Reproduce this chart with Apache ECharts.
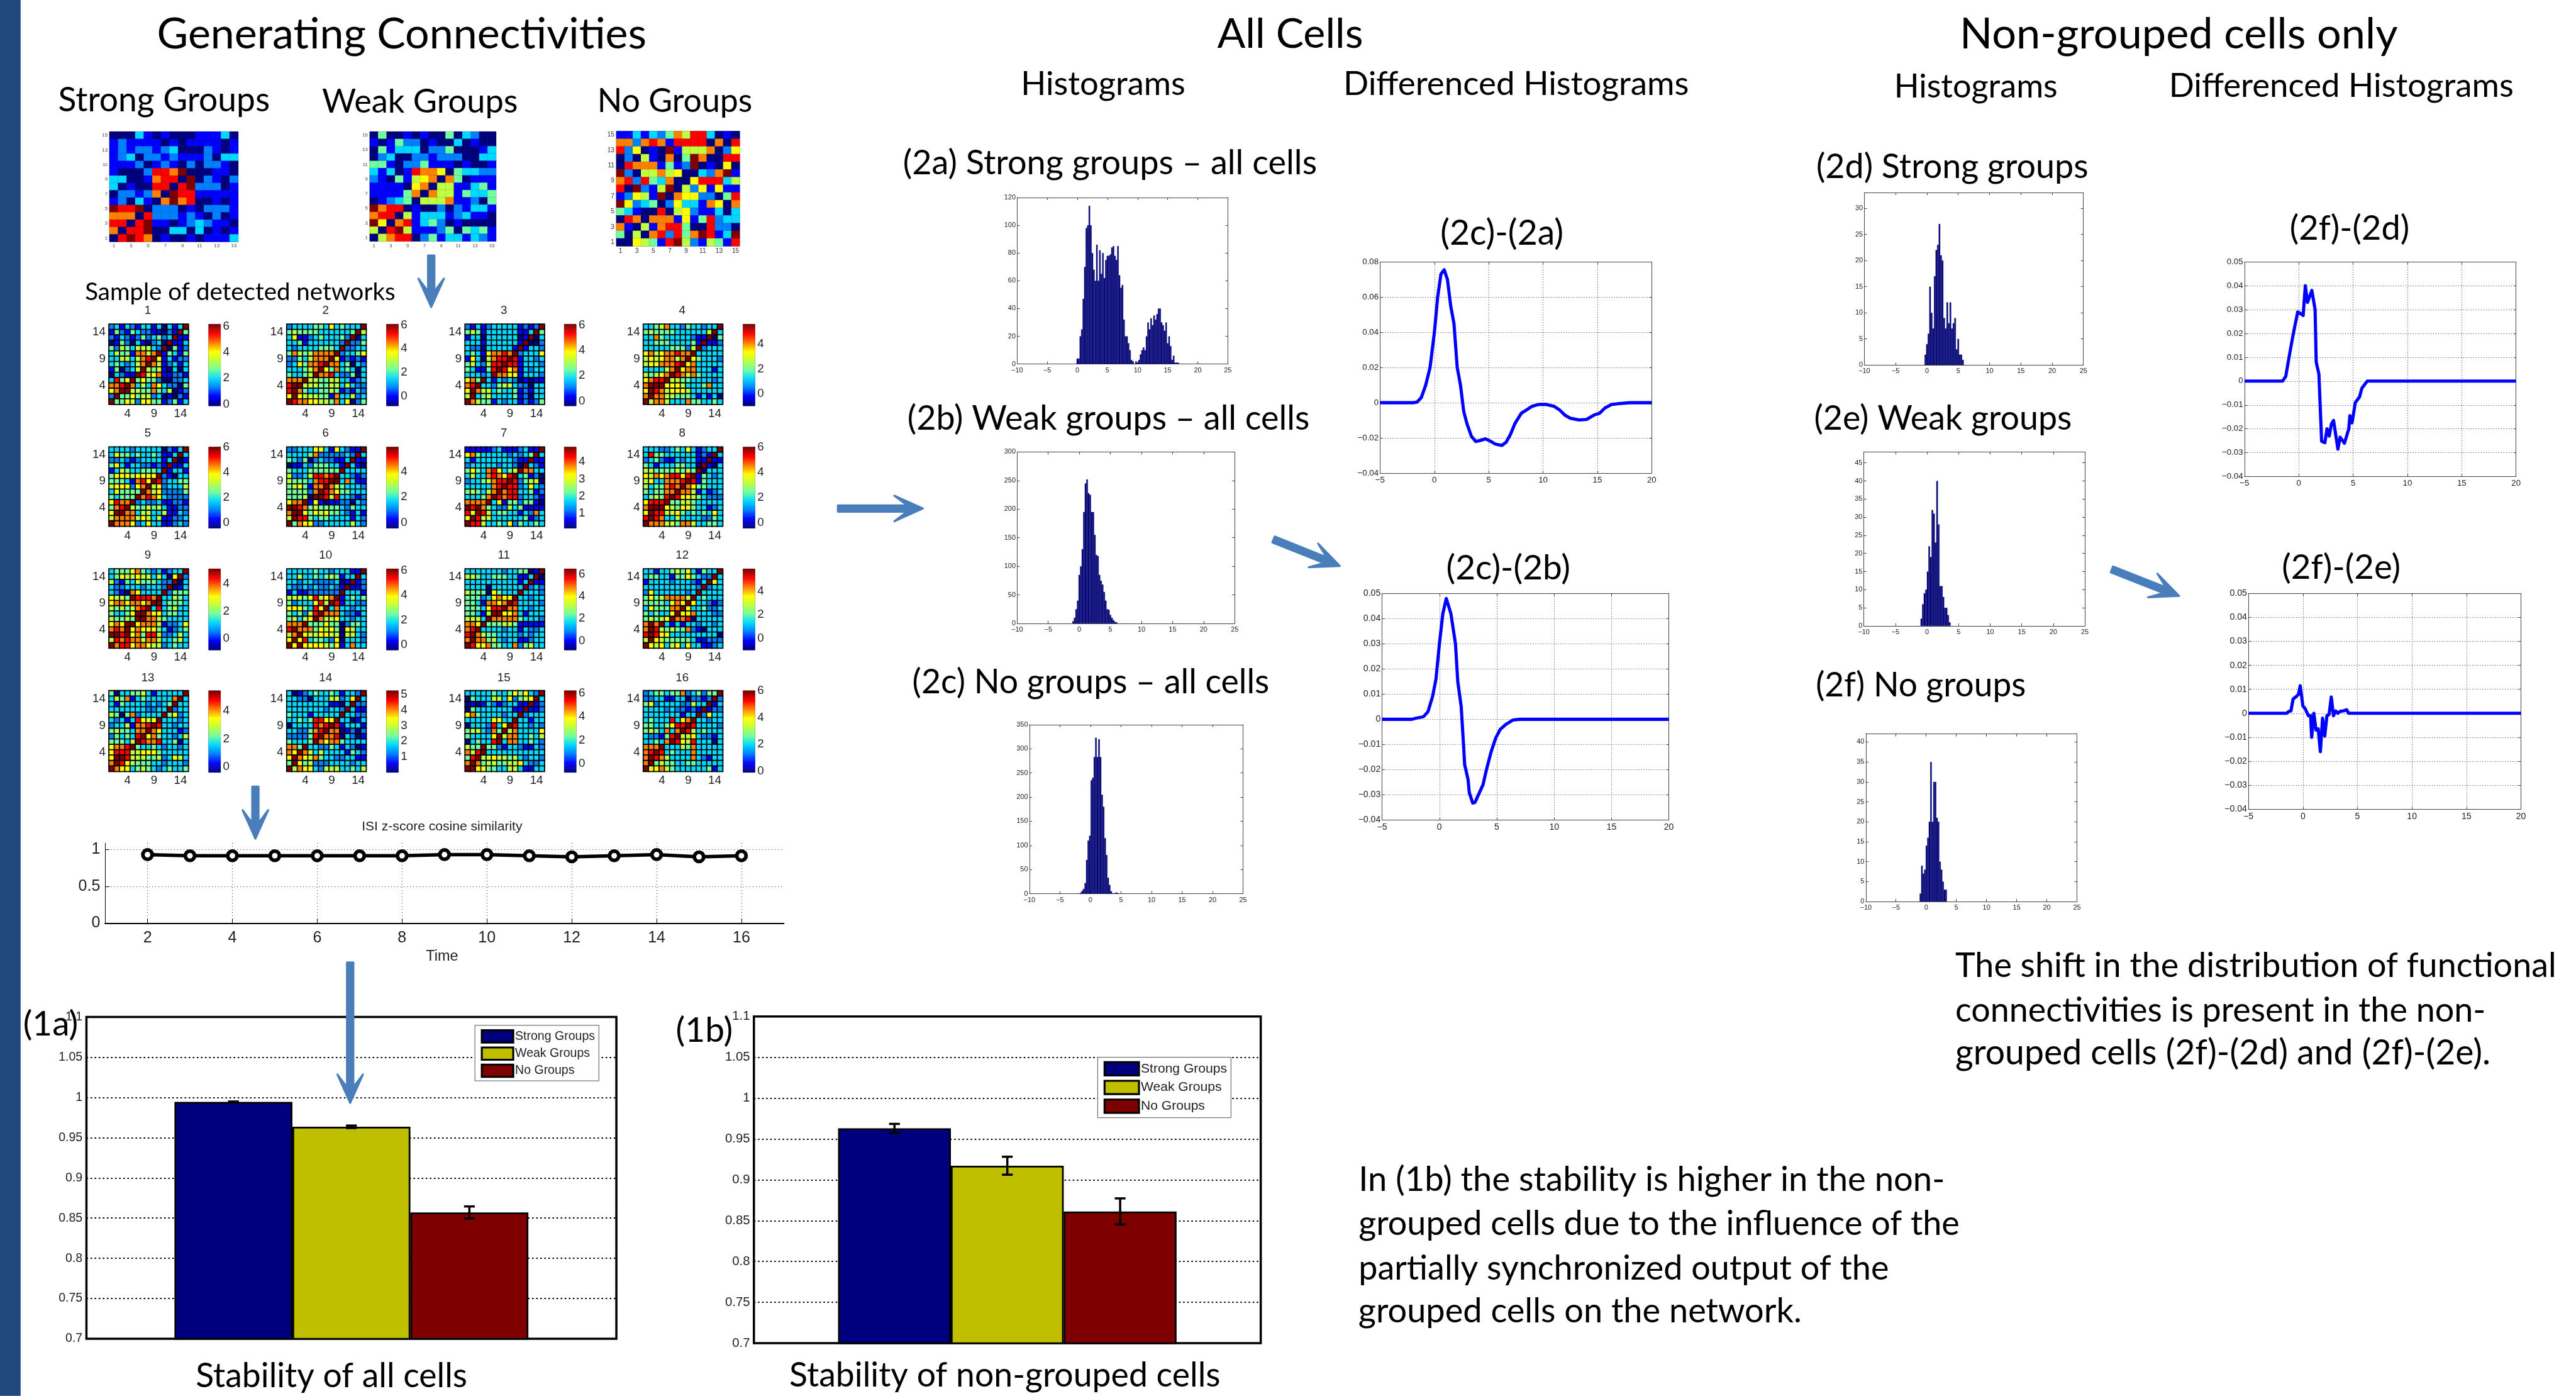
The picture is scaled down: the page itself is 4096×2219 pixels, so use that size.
<!DOCTYPE html>
<html><head><meta charset="utf-8">
<style>html,body{margin:0;padding:0;background:#fff}#c{width:4096px;height:2219px}</style>
<script src="https://cdn.jsdelivr.net/npm/echarts@6/dist/echarts.min.js"></script>
</head><body><div id="c"></div>
<script>
// ---------- values (digit scale: 0 dark blue ... 9 dark red; rows top to bottom)
const strongGroups=[
[0,0,0,3,1,0,1,0,0,0,1,1,1,3,0],[1,2,1,1,1,1,0,1,0,1,1,1,1,0,1],[1,2,1,2,2,1,2,3,0,0,0,2,1,0,1],
[1,2,3,0,2,2,1,2,1,1,1,2,0,3,3],[1,1,1,2,0,1,2,1,0,2,0,2,2,1,0],[1,0,0,0,2,8,8,7,9,0,0,0,1,1,0],
[3,3,0,0,1,7,8,8,0,9,0,2,1,0,2],[3,0,1,0,0,8,8,0,8,9,2,2,2,0,1],[0,2,2,1,2,7,0,9,8,8,1,1,1,1,1],
[1,2,0,3,1,0,7,9,7,8,0,0,1,0,1],[9,8,8,9,0,2,2,2,0,1,0,2,2,2,1],[7,7,7,0,8,2,2,2,1,2,1,0,2,0,1],
[8,8,0,8,9,1,1,0,1,2,3,2,1,1,0],[7,0,8,8,9,0,0,3,3,0,3,0,1,0,1],[0,8,9,8,7,0,1,0,0,1,0,1,1,1,3]];
const weakGroups=[
[0,4,0,0,1,0,1,0,0,4,0,3,2,0,0],[1,0,1,4,2,2,0,1,0,0,3,0,1,0,0],[0,4,1,3,3,3,0,2,2,4,0,0,0,1,3],
[0,2,3,0,0,2,2,1,2,2,2,0,0,3,3],[4,4,1,0,2,2,4,1,1,1,0,1,0,0,1],[3,1,3,0,1,8,7,7,6,0,4,3,3,2,2],
[2,1,0,4,1,5,6,7,0,7,4,0,1,1,1],[1,1,1,1,0,6,7,0,5,5,1,1,3,4,1],[1,1,1,1,4,7,0,7,5,5,1,4,3,3,4],
[0,1,2,3,4,0,5,5,5,7,1,1,2,0,4],[9,7,8,8,0,1,0,0,2,0,2,1,3,3,1],[7,8,8,0,5,1,3,3,3,1,2,3,1,1,0],
[9,6,0,7,8,1,3,4,2,0,1,0,0,0,0],[5,0,8,9,5,1,1,1,2,4,0,4,3,4,1],[0,5,7,8,8,0,2,4,1,3,3,1,3,2,1]];
const noGroups=[
[1,1,3,1,3,2,4,7,5,8,8,3,0,1,0],[7,7,2,7,8,7,1,8,8,8,8,0,7,0,8],[8,2,6,0,1,0,9,1,5,5,5,7,0,2,6],
[0,2,0,5,1,0,7,0,4,9,7,0,0,8,8],[0,8,7,7,7,1,4,1,2,9,0,1,0,6,0],[9,2,0,5,5,7,5,6,0,0,3,2,7,9,1],
[7,8,2,8,4,3,7,0,0,6,8,8,8,3,5],[8,0,9,2,1,5,9,0,5,2,6,1,6,1,1],[1,2,6,5,1,9,0,7,6,6,2,2,0,4,8],
[9,6,2,3,4,0,2,6,3,3,1,7,6,0,7],[4,3,1,0,0,8,0,5,6,2,1,1,3,0,3],[0,8,7,0,7,7,7,1,6,1,4,8,2,3,3],
[7,1,0,5,1,7,8,8,4,0,0,8,2,2,0],[4,0,5,0,7,8,2,8,4,7,9,8,1,3,9],[0,0,6,5,4,1,8,9,5,2,1,5,4,1,8]];
const net1=[[2,3,1,3,2,1,3,3,1,3,0,3,1,3,9],[1,4,2,1,4,3,2,2,1,1,0,2,1,9,4],[2,1,3,2,1,2,4,2,3,4,2,3,9,1,1],[0,1,4,2,0,3,1,0,2,3,0,9,1,1,3],[4,2,5,4,3,5,5,5,3,2,9,0,4,1,2],[3,5,4,4,1,7,7,5,7,9,1,4,3,1,4],[3,3,5,5,3,5,7,8,9,6,1,3,1,2,2],[3,4,3,2,3,5,7,9,7,5,1,2,3,1,3],[1,4,0,2,3,5,9,5,4,5,1,0,3,0,3],[0,3,2,1,1,9,8,5,6,7,1,1,2,2,1],[3,8,4,6,9,4,6,4,4,2,0,0,2,2,3],[7,7,8,9,7,3,5,3,7,6,3,2,2,0,4],[6,7,9,9,5,5,4,4,7,4,3,5,0,1,2],[2,9,4,4,6,4,5,5,2,3,0,1,0,2,1],[9,4,4,6,5,2,6,6,4,4,1,2,4,1,3]];
const net2=[[2,3,3,3,3,4,4,3,6,3,4,3,3,3,9],[4,5,4,4,4,4,3,3,3,3,3,3,4,9,5],[3,6,1,1,2,3,4,3,3,3,4,2,9,0,3],[3,3,4,1,3,3,3,3,3,3,2,9,2,2,4],[3,2,3,3,3,3,4,4,4,3,9,2,2,3,3],[4,7,5,4,5,7,7,7,7,9,2,3,3,4,6],[2,2,4,3,5,7,7,7,9,6,1,2,1,2,1],[2,3,6,4,7,7,8,9,7,7,3,4,0,3,2],[3,3,3,4,5,7,9,6,4,7,3,4,3,0,3],[4,3,3,4,5,9,7,7,8,3,2,2,4,0,3],[7,7,7,9,5,5,4,4,5,5,3,3,1,2,3],[8,9,9,5,5,5,4,4,5,5,3,5,3,2,2],[8,9,7,4,3,3,4,4,5,4,1,2,1,3,2],[6,9,6,5,5,5,4,4,1,7,3,3,5,2,3],[9,8,7,7,6,6,5,5,4,7,3,6,0,2,4]];
const net3=[[2,1,3,1,2,3,3,3,3,3,1,2,1,2,9],[4,5,4,1,3,3,3,3,3,3,1,1,3,9,4],[1,3,3,0,3,3,3,3,3,3,0,1,9,0,3],[3,3,3,1,3,3,3,3,3,3,1,9,0,0,2],[3,2,2,0,3,3,3,3,3,1,9,1,3,3,2],[3,4,3,1,6,7,7,8,7,9,2,3,3,3,6],[1,6,3,0,5,7,8,8,9,8,1,3,3,2,3],[4,5,3,2,5,8,8,9,8,8,1,3,3,3,2],[4,3,1,1,4,8,9,8,6,7,1,3,2,3,3],[3,3,3,2,3,9,7,7,6,6,1,3,3,3,2],[6,7,4,9,3,1,3,2,3,2,0,1,0,1,1],[7,8,9,3,3,2,4,5,5,3,2,2,0,3,3],[6,9,7,5,5,3,4,3,3,4,1,2,1,3,3],[5,9,3,4,5,3,3,3,3,4,1,2,0,3,3],[9,7,5,4,4,1,3,2,3,3,1,2,1,2,4]];
const net4=[[3,3,4,5,7,3,3,2,4,3,3,2,3,3,9],[4,5,4,4,4,4,3,3,3,3,3,3,5,9,3],[3,3,7,4,3,3,3,3,3,2,1,1,9,0,4],[3,3,4,4,4,3,3,3,3,4,1,9,1,1,2],[3,3,3,3,3,4,4,4,2,5,9,2,3,3,3],[6,7,5,6,7,7,8,7,7,9,3,3,3,3,3],[5,6,5,6,7,7,5,7,9,6,4,3,3,3,2],[5,6,6,7,7,7,8,9,6,7,3,3,3,3,3],[3,3,3,3,5,7,9,6,7,7,3,3,3,1,3],[5,4,5,6,7,9,8,7,5,7,4,3,3,3,3],[6,7,8,8,9,5,5,4,4,3,3,3,3,2,3],[7,9,9,9,6,6,6,5,3,3,3,4,7,3,3],[6,9,8,7,5,6,6,6,5,3,3,3,3,3,3],[7,9,7,7,5,5,4,4,4,3,1,3,1,3,0],[9,5,7,7,5,3,3,3,7,4,4,3,3,4,3]];
const net5=[[3,3,3,3,2,3,3,3,3,3,0,2,1,3,9],[3,6,4,4,3,4,3,3,4,3,1,1,3,9,3],[2,2,3,2,1,2,3,3,3,3,1,3,9,0,1],[4,6,3,1,3,3,2,2,1,2,1,9,1,1,3],[1,3,5,4,3,3,4,4,4,3,9,1,3,3,1],[4,6,6,6,5,6,6,6,6,9,2,1,0,3,3],[4,4,4,3,1,7,8,6,9,8,2,3,3,4,4],[5,6,6,6,2,6,7,9,5,6,2,3,3,3,5],[3,6,4,4,4,4,9,7,5,6,2,2,2,2,4],[4,3,4,4,4,9,7,8,7,6,3,2,2,2,2],[6,8,7,7,9,2,3,2,2,3,1,1,2,2,1],[4,7,8,9,5,4,4,5,4,5,3,1,1,2,2],[6,9,9,7,7,3,5,5,3,3,5,1,1,3,2],[5,7,7,7,7,5,6,5,3,5,1,1,2,2,3],[9,7,7,7,6,2,3,6,3,3,1,1,2,3,2]];
const net6=[[2,2,3,3,3,6,6,3,1,6,3,2,1,1,9],[3,3,3,3,4,7,2,2,2,2,2,3,2,9,3],[4,3,2,4,0,2,3,2,2,1,1,3,9,1,1],[0,1,1,3,2,4,4,4,3,3,1,9,3,1,0],[4,3,3,3,4,4,4,4,4,4,9,3,3,3,3],[5,2,2,3,5,8,8,7,8,9,3,3,2,1,2],[5,4,4,4,3,7,8,8,9,9,3,7,3,1,1],[4,5,6,4,1,7,7,9,7,5,4,3,3,3,2],[4,4,4,4,2,7,9,8,7,6,4,4,3,3,3],[4,4,4,5,0,9,9,8,5,8,3,3,2,1,2],[6,7,7,9,1,6,1,0,1,1,2,2,0,3,2],[9,9,8,7,4,5,4,4,4,4,3,2,4,3,3],[7,9,9,6,4,6,5,6,4,4,3,2,1,3,1],[5,9,8,8,4,3,4,4,3,3,3,3,1,3,2],[9,4,7,6,6,2,2,3,3,3,3,3,5,3,2]];
const net7=[[1,1,1,1,1,2,3,1,1,1,2,3,1,1,9],[6,7,4,3,3,3,3,3,2,3,2,3,4,9,3],[3,1,3,3,3,3,3,3,3,2,1,1,9,1,1],[2,3,3,3,3,3,2,3,3,2,0,9,3,2,1],[4,6,4,3,7,8,6,3,4,5,9,7,7,3,3],[3,5,3,3,7,8,7,6,8,9,3,4,1,2,0],[2,3,3,4,5,7,8,8,9,8,2,4,5,5,0],[3,3,3,3,3,7,8,9,8,8,2,3,6,3,2],[4,5,4,3,5,7,9,7,8,8,3,3,4,1,2],[3,3,3,4,7,9,8,7,8,8,2,3,3,2,1],[7,7,7,7,9,3,6,1,4,4,2,4,4,1,0],[9,8,9,7,4,3,2,2,5,3,4,1,1,1,1],[8,6,9,8,5,3,4,4,3,3,1,3,2,7,3],[6,9,8,5,5,3,3,3,3,3,3,4,1,2,3],[9,8,8,5,3,3,4,3,6,2,4,3,3,4,3]];
const net8=[[3,3,3,2,2,3,4,3,6,3,1,2,3,3,9],[3,8,4,4,3,3,3,3,3,3,1,2,1,9,3],[2,3,4,2,1,1,3,2,3,3,1,1,9,1,1],[4,3,1,3,3,3,4,4,3,3,0,9,1,0,3],[5,5,4,4,4,4,5,4,5,4,9,0,3,3,3],[6,5,7,6,7,8,8,6,8,9,1,4,3,2,3],[5,6,3,3,7,7,7,8,9,8,1,4,3,3,3],[5,3,4,4,7,8,7,9,7,6,4,4,3,3,3],[4,3,4,4,7,7,9,7,7,5,1,3,1,2,3],[3,4,5,4,8,9,8,6,6,5,4,3,2,2,2],[6,8,8,8,9,4,4,5,5,4,3,3,3,3,3],[7,9,9,9,6,5,4,6,6,4,3,3,1,2,3],[6,9,8,8,5,5,6,4,3,4,3,4,3,6,3],[8,9,8,7,3,3,5,3,3,3,3,2,2,4,3],[9,7,7,7,5,5,4,7,7,5,3,3,4,4,3]];
const net9=[[3,4,4,4,6,7,4,3,2,3,1,2,3,3,9],[3,4,6,5,5,6,5,5,3,5,3,0,6,9,2],[5,2,1,4,3,5,4,4,4,3,2,2,9,0,3],[3,2,2,3,3,3,2,3,3,3,2,9,0,1,3],[3,2,1,0,7,6,3,3,3,3,9,2,4,4,4],[6,5,5,4,9,8,8,8,7,9,3,3,5,4,3],[6,7,7,6,7,7,6,7,9,9,3,4,4,4,3],[5,4,5,4,5,7,8,9,3,8,3,4,5,3,3],[4,3,3,4,6,9,9,7,6,6,3,4,4,3,3],[5,4,4,5,4,9,9,7,7,5,4,3,3,3,3],[6,7,6,9,9,6,7,7,7,5,1,2,2,3,6],[7,8,7,9,6,7,6,6,6,4,3,1,2,3,4],[9,9,8,9,6,7,4,8,8,5,2,2,3,5,3],[5,8,7,8,7,7,5,7,7,5,3,3,4,5,3],[9,7,8,8,6,7,7,6,5,5,2,3,4,3,3]];
const net10=[[3,3,3,3,3,4,3,3,2,3,3,3,1,1,9],[3,3,5,3,3,4,3,4,5,4,1,3,3,9,3],[3,3,2,3,3,2,2,2,2,3,0,1,9,1,2],[3,2,2,3,2,3,2,2,3,2,1,9,1,1,2],[1,3,1,1,2,2,2,2,2,2,9,3,3,3,1],[5,5,5,4,6,8,5,6,7,9,1,3,4,3,4],[4,2,3,3,3,6,8,5,9,8,1,3,3,2,2],[6,6,6,4,3,8,6,9,3,7,3,3,2,3,3],[4,3,4,2,5,8,9,7,7,7,3,2,2,1,3],[4,5,3,5,6,9,7,5,5,6,3,3,2,3,3],[7,7,7,9,4,4,4,6,4,4,0,2,4,4,3],[8,9,7,7,7,4,6,5,6,4,0,6,5,3,3],[5,7,9,6,5,5,6,6,5,5,0,5,5,3,2],[6,9,6,8,3,4,4,3,2,6,0,3,3,3,2],[9,6,9,6,6,6,6,5,4,6,1,3,7,3,3]];
const net11=[[3,3,3,3,3,3,3,2,3,3,4,4,0,1,9],[5,5,4,3,3,4,4,4,3,3,1,1,3,9,0],[3,3,3,3,3,3,3,3,3,3,1,3,9,1,1],[3,3,3,3,0,3,3,3,3,3,3,9,2,3,2],[5,4,4,4,0,6,4,3,3,3,9,3,3,3,2],[4,4,4,2,3,6,7,6,6,9,3,3,2,3,3],[4,4,3,1,7,7,6,7,9,8,3,3,3,3,2],[4,4,4,3,6,8,8,9,7,7,3,3,2,3,3],[4,4,3,1,5,9,9,6,6,7,3,1,3,3,3],[5,5,5,3,9,7,7,7,7,7,4,3,3,3,2],[7,7,6,9,4,4,4,5,5,4,1,1,1,1,1],[7,8,9,3,3,3,3,2,3,3,1,3,2,2,3],[8,9,7,5,4,4,3,3,3,3,2,3,2,3,3],[7,9,7,7,4,5,3,2,3,3,1,1,2,3,3],[9,8,6,6,7,4,4,3,3,7,2,4,5,3,3]];
const net12=[[3,3,1,3,3,4,5,4,6,3,1,4,3,3,9],[3,4,4,3,3,1,4,4,6,4,3,2,2,9,3],[1,3,3,3,3,2,3,3,3,2,1,3,9,6,3],[3,3,3,3,3,3,3,3,3,3,2,9,2,3,3],[2,6,3,3,3,3,3,3,2,3,9,3,3,3,3],[4,6,4,5,7,7,7,7,5,9,3,4,3,3,3],[4,4,4,4,3,6,7,6,9,6,3,3,2,1,2],[3,6,4,4,4,7,7,9,6,3,3,4,2,2,3],[4,3,4,3,3,6,9,6,6,7,3,3,3,2,2],[4,5,4,5,6,9,7,7,8,0,3,3,3,3,3],[7,9,7,9,3,1,3,1,3,3,2,3,3,2,3],[7,9,8,5,4,5,4,4,7,2,1,0,3,3,3],[8,9,8,6,6,3,3,3,3,3,3,3,3,3,0],[5,9,6,5,4,4,4,4,4,3,1,1,2,2,2],[9,6,5,6,3,5,6,3,6,3,3,1,1,2,3]];
const net13=[[4,0,3,3,4,4,5,3,1,3,3,3,3,3,9],[3,5,4,7,1,3,4,3,3,3,3,3,7,9,3],[3,1,4,3,3,3,3,2,3,2,3,4,9,3,3],[3,3,3,3,3,3,3,2,2,3,3,9,2,3,3],[5,4,0,4,7,2,3,3,3,3,9,4,6,2,3],[3,2,3,1,3,8,6,5,6,9,3,3,3,2,3],[2,3,3,5,1,7,7,8,9,8,3,3,2,3,3],[4,5,4,4,3,7,7,9,7,6,3,3,3,1,2],[2,4,3,4,3,8,9,6,7,4,3,3,2,3,5],[4,4,4,3,5,9,8,7,7,8,3,3,4,0,3],[6,7,7,8,9,4,3,3,4,3,2,3,3,2,3],[6,8,8,8,5,5,6,6,6,4,3,3,3,3,3],[6,9,9,8,5,5,5,4,4,5,2,3,6,5,3],[7,9,8,6,5,4,4,4,3,3,2,3,3,3,2],[9,7,6,6,3,4,5,4,3,2,3,4,3,3,4]];
const net14=[[3,0,1,2,3,4,3,3,4,3,1,3,3,2,9],[3,3,2,2,0,3,3,3,5,5,2,3,6,9,3],[3,3,3,3,3,3,3,3,1,1,0,3,9,2,2],[3,3,3,3,3,3,3,2,3,3,2,9,3,1,1],[4,3,3,3,1,3,3,3,3,3,9,3,3,2,2],[3,3,4,3,4,8,8,6,6,9,3,3,0,1,3],[0,3,3,3,3,8,7,8,9,8,1,3,3,3,1],[3,3,2,2,4,7,8,9,7,7,0,1,2,0,2],[2,2,2,2,4,8,9,7,7,8,0,3,2,0,1],[4,3,3,3,4,9,7,6,7,7,4,3,3,3,3],[7,7,4,9,3,3,2,2,4,3,1,3,2,0,1],[7,6,9,7,5,3,5,3,3,3,3,1,4,3,2],[6,9,7,6,5,7,4,3,3,2,2,3,3,1,1],[4,9,6,4,5,2,2,2,3,3,3,3,2,3,3],[9,5,7,6,6,3,2,5,5,5,3,3,4,3,5]];
const net15=[[3,3,3,3,3,4,3,3,4,6,4,6,3,2,9],[0,4,3,3,3,5,5,3,6,2,4,5,6,9,3],[0,1,0,1,3,2,1,2,3,3,1,1,9,1,2],[0,4,3,3,3,3,3,3,3,1,1,9,1,1,2],[6,7,4,3,3,3,3,2,3,3,9,2,3,3,3],[3,3,3,3,3,6,6,3,3,9,3,3,1,3,3],[0,3,3,3,2,8,3,6,9,8,3,3,2,3,2],[4,5,5,3,2,7,4,9,5,7,3,3,3,3,6],[4,3,3,3,3,6,9,5,7,7,3,3,4,3,5],[0,3,4,3,3,8,9,3,7,7,3,3,4,3,2],[5,4,4,9,4,4,2,1,3,3,2,1,1,3,2],[7,5,8,9,3,3,3,3,3,3,3,3,3,3,3],[4,8,9,5,5,6,5,5,4,5,3,2,3,3,2],[7,9,7,4,5,5,4,4,5,5,6,3,2,2,3],[9,9,6,6,4,4,3,3,5,5,3,1,1,3,3]];
const net16=[[2,3,4,4,3,4,4,7,2,3,4,2,4,4,9],[2,2,3,3,1,1,3,3,0,2,2,1,2,9,2],[4,6,2,3,3,3,3,2,2,5,3,3,9,1,3],[3,3,3,3,2,3,2,2,1,2,1,9,1,2,2],[3,3,3,3,3,3,3,1,3,3,9,2,6,3,3],[3,4,3,3,3,8,3,6,7,9,3,3,2,3,3],[4,4,3,3,4,6,8,8,9,8,3,3,3,3,2],[4,5,4,3,7,3,7,9,8,5,3,4,3,3,3],[3,2,2,1,4,8,9,5,5,6,3,2,2,1,3],[3,3,4,3,7,9,8,6,5,8,3,3,3,0,3],[7,7,7,9,3,3,3,5,4,7,3,3,3,3,3],[7,8,9,8,3,4,3,3,3,7,3,3,3,3,3],[7,9,8,7,5,3,3,3,3,7,3,2,1,3,3],[7,9,4,5,4,4,3,3,4,4,3,3,3,3,3],[9,6,6,7,5,4,3,3,3,3,3,3,4,1,3]];
const networks=[net1,net2,net3,net4,net5,net6,net7,net8,net9,net10,net11,net12,net13,net14,net15,net16];
// colour-bar value range and tick labels of each of the 16 networks
const barRanges=[[-0.12,6.15],[-0.78,6.05],[-0.37,6.05],[-0.97,5.6],[-0.43,6],[-0.42,5.9],[0.14,4.86],[-0.43,6],[-0.82,5.07],[-0.4,6.12],[-0.84,6.48],[-1,5.9],[-0.39,5.43],[0.02,5.22],[-0.72,6.2],[-0.1,6]];
const barTicks=[[0,2,4,6],[0,2,4,6],[0,2,4,6],[0,2,4],[0,2,4,6],[0,2,4],[1,2,3,4],[0,2,4,6],[0,2,4],[0,2,4,6],[0,2,4,6],[0,2,4],[0,2,4],[1,2,3,4,5],[0,2,4,6],[0,2,4,6]];
const timeValues=[2,3,4,5,6,7,8,9,10,11,12,13,14,15,16];
const cosineValues=[0.93,0.915,0.915,0.915,0.915,0.915,0.915,0.93,0.93,0.915,0.90,0.915,0.93,0.90,0.915];
const groupNames=['Strong Groups','Weak Groups','No Groups'];
const stabilityAll=[0.9944,0.9635,0.857];
const stabilityAllErr=[0.0005,0.0015,0.0075];
const stabilityNon=[0.963,0.9173,0.8613];
const stabilityNonErr=[0.0055,0.011,0.016];
const hist2a=[4,4,20,25,47,70,98,100,114,100,80,68,60,86,60,82,65,80,62,75,78,78,79,84,85,78,75,85,64,55,57,32,20,20,15,10,3,2,0,2,1,3,7,10,12,10,20,30,25,33,28,35,32,36,40,40,30,28,24,30,15,20,13,3,6,1,1,1];
const hist2b=[4,10,25,40,85,100,130,195,245,252,228,225,195,195,155,120,118,85,75,68,55,40,25,24,15,10,6,3,2];
const hist2c=[2,6,10,22,70,110,120,235,240,283,323,283,320,283,205,180,115,80,33,18,5,1,0,2,2];
const hist2d=[2,4,6,15,10,7,17,22,23,27,21,20,9,7,12,8,12,7,8,9,3,5,2,2,1];
const hist2e=[2,6,9,10,15,22,19,32,31,23,40,28,11,11,8,5,5,3,1];
const hist2f=[2,9,7,8,14,16,20,35,20,30,30,21,20,10,8,5,3,3];
const hist2aStart=0,hist2bStart=-1,hist2cStart=-1.6,hist2dStart=-0.25,hist2eStart=-0.9,hist2fStart=-0.95;
const diff2c2a=[[-5,0],[-2,0],[-1.6,0.0003],[-1.2,0.003],[-0.8,0.01],[-0.4,0.02],[0,0.04],[0.3,0.06],[0.6,0.073],[0.9,0.0755],[1.2,0.07],[1.5,0.055],[1.8,0.045],[2.1,0.02],[2.4,0.01],[2.7,-0.005],[3,-0.012],[3.4,-0.019],[3.8,-0.022],[4.2,-0.0215],[4.7,-0.0205],[5.2,-0.022],[5.6,-0.0235],[6.2,-0.0243],[6.6,-0.0225],[7,-0.018],[7.4,-0.012],[8,-0.006],[8.5,-0.004],[9,-0.002],[9.6,-0.001],[10.3,-0.001],[11,-0.002],[11.5,-0.004],[12,-0.007],[12.5,-0.0088],[13.3,-0.0098],[14,-0.0095],[14.7,-0.007],[15.2,-0.006],[15.7,-0.003],[16.3,-0.001],[17,-0.0005],[18,0],[20,0]];
const diff2c2b=[[-5,0],[-2.4,0],[-2,0.0005],[-1.4,0.001],[-1,0.003],[-0.6,0.009],[-0.3,0.016],[0,0.03],[0.3,0.042],[0.6,0.048],[1,0.042],[1.4,0.03],[1.6,0.015],[1.9,0.005],[2.1,-0.01],[2.2,-0.018],[2.5,-0.024],[2.6,-0.029],[2.9,-0.0333],[3.1,-0.033],[3.4,-0.03],[3.8,-0.026],[4.1,-0.02],[4.5,-0.013],[4.9,-0.0075],[5.3,-0.004],[5.8,-0.002],[6.4,-0.0003],[7,0],[20,0]];
const diff2f2d=[[-5,0],[-1.5,0],[-1.2,0.002],[-0.9,0.01],[-0.5,0.02],[-0.1,0.029],[0.1,0.0285],[0.4,0.0275],[0.6,0.04],[0.8,0.033],[1.2,0.038],[1.5,0.03],[1.6,0.008],[1.85,0.003],[2.1,-0.0252],[2.4,-0.0258],[2.6,-0.02],[2.8,-0.023],[3,-0.018],[3.2,-0.0165],[3.6,-0.0285],[3.8,-0.0235],[4.2,-0.026],[4.6,-0.02],[4.7,-0.0145],[4.9,-0.0175],[5.2,-0.009],[5.6,-0.0065],[5.8,-0.003],[6.3,0],[20,0]];
const diff2f2e=[[-5,0],[-1.5,0],[-1.3,0.0008],[-1.1,0.001],[-0.9,0.006],[-0.6,0.007],[-0.4,0.008],[-0.25,0.0115],[0,0.003],[0.2,0.002],[0.3,0.0015],[0.5,-0.001],[0.7,-0.001],[0.8,-0.01],[1,0],[1.2,-0.007],[1.4,-0.0065],[1.6,-0.016],[1.8,-0.002],[2,-0.0095],[2.2,-0.001],[2.4,-0.0005],[2.6,0.0068],[2.8,-0.001],[3,0.001],[3.2,0],[3.4,0.0008],[3.7,0.001],[4,0.0015],[4.2,0],[20,0]];

// ---------- layout: everything below is in reference pixels, scaled by S
const S=4096/5245;
const JET=['#00007f','#0000ff','#0080ff','#00d8ff','#70ffa0','#bfff3f','#ffff00','#ff8000','#ff0000','#7f0000'];
const ARIAL='"Liberation Sans",Arial,sans-serif';
const grids=[],xAxes=[],yAxes=[],series=[],heatSeries=[],graphics=[];
function addGrid(x,y,w,h,extra){grids.push(Object.assign({left:x*S,top:y*S,width:w*S,height:h*S,containLabel:false},extra||{}));return grids.length-1;}
function addX(a){xAxes.push(a);return xAxes.length-1;}
function addY(a){yAxes.push(a);return yAxes.length-1;}
const minusFmt=v=>String(+(+v).toFixed(3)).replace('-','\u2212');
const cats=[];for(let i=1;i<=15;i++)cats.push(String(i));
function cellsOf(m){const d=[];m.forEach((row,r)=>row.forEach((v,c)=>d.push([c,14-r,v])));return d;}
function heat(x,y,w,h,m,o){
  const g=addGrid(x,y,w,h,{show:true,borderColor:o.frame,borderWidth:o.frameW,backgroundColor:'transparent'});
  const pick=o.pick;
  const ax=t=>({gridIndex:g,type:'category',data:cats,boundaryGap:true,axisLine:{show:false},axisTick:{show:false},splitLine:{show:false},
    axisLabel:{show:true,interval:(i)=>pick.includes(i),fontFamily:ARIAL,fontSize:o.font*S,color:o.col,margin:o.margin*S}});
  const xi=addX(ax()),yi=addY(ax());
  heatSeries.push(series.length);
  series.push({type:'heatmap',xAxisIndex:xi,yAxisIndex:yi,data:cellsOf(m),silent:true,progressive:0,itemStyle:{borderColor:o.cell,borderWidth:o.cellW*S}});
}
const levels=[];for(let i=0;i<64;i++)levels.push(i);
function colorBar(x,y,w,h,range,ticks){
  const g=addGrid(x,y,w,h,{show:true,borderColor:'#555',borderWidth:1});
  const xi=addX({gridIndex:g,type:'category',data:['c'],axisLine:{show:false},axisTick:{show:false},axisLabel:{show:false},splitLine:{show:false}});
  const yi=addY({gridIndex:g,type:'category',data:levels,axisLine:{show:false},axisTick:{show:false},axisLabel:{show:false},splitLine:{show:false}});
  addY({gridIndex:g,type:'value',position:'right',min:range[0],max:range[1],axisLine:{show:false},splitLine:{show:false},
    axisTick:{show:true,inside:true,length:2,customValues:ticks,lineStyle:{color:'#000'}},
    axisLabel:{show:true,customValues:ticks,fontFamily:ARIAL,fontSize:24*S,color:'#222',margin:5*S}});
  heatSeries.push(series.length);
  series.push({type:'heatmap',xAxisIndex:xi,yAxisIndex:yi,data:levels.map(l=>[0,l,l/63*9]),silent:true,progressive:0});
}
function plotAxes(g,xmin,xmax,xint,ymin,ymax,yint,font,grid,hideTop){
  const lc={color:'#444',width:1};
  const xi=addX({gridIndex:g,type:'value',min:xmin,max:xmax,interval:xint,axisLine:{onZero:false,lineStyle:lc},
    axisTick:{inside:true,length:4,lineStyle:lc},axisLabel:{fontFamily:ARIAL,fontSize:font*S,color:'#222',margin:6*S,formatter:minusFmt},
    splitLine:{show:grid,lineStyle:{color:'#222',type:[1,3],width:1}}});
  const yi=addY({gridIndex:g,type:'value',min:ymin,max:ymax,interval:yint,axisLine:{onZero:false,lineStyle:lc},
    axisTick:{inside:true,length:4,lineStyle:lc},axisLabel:{fontFamily:ARIAL,fontSize:font*S,color:'#222',margin:3*S,formatter:minusFmt,showMaxLabel:!hideTop},
    splitLine:{show:grid,lineStyle:{color:'#222',type:[1,3],width:1}}});
  addX({gridIndex:g,type:'value',position:'top',min:xmin,max:xmax,interval:xint,axisLine:{onZero:false,lineStyle:lc},axisTick:{inside:true,length:4,lineStyle:lc},axisLabel:{show:false},splitLine:{show:false}});
  addY({gridIndex:g,type:'value',position:'right',min:ymin,max:ymax,interval:yint,axisLine:{onZero:false,lineStyle:lc},axisTick:{inside:true,length:4,lineStyle:lc},axisLabel:{show:false},splitLine:{show:false}});
  return [xi,yi];
}
function histogram(x,y,w,h,vals,start,ymax,yint,hideTop){
  const g=addGrid(x,y,w,h);
  const [xi,yi]=plotAxes(g,-10,25,5,0,ymax,yint,14,false,hideTop);
  series.push({type:'bar',xAxisIndex:xi,yAxisIndex:yi,data:vals.map((v,i)=>[start+i*0.25,v]),barCategoryGap:'0%',barWidth:'100%',silent:true,
    itemStyle:{color:'#00007f',borderColor:'#00005a',borderWidth:0.4}});
}
function diffPlot(x,y,w,h,pts,ymax,yint,font){
  const g=addGrid(x,y,w,h);
  const [xi,yi]=plotAxes(g,-5,20,5,-0.04,ymax,yint,font,true,false);
  series.push({type:'line',xAxisIndex:xi,yAxisIndex:yi,data:pts,showSymbol:false,silent:true,lineStyle:{color:'#0000ff',width:6.5*S,join:'round'}});
}
function stability(x,y,w,h,vals,errs,font){
  const g=addGrid(x,y,w,h,{show:true,borderColor:'#000',borderWidth:4.5*S});
  const xi=addX({gridIndex:g,type:'value',min:-0.246,max:4.246,show:false,splitLine:{show:false}});
  const yi=addY({gridIndex:g,type:'value',min:0.7,max:1.1,interval:0.05,axisLine:{show:false},axisTick:{show:false},
    axisLabel:{fontFamily:ARIAL,fontSize:font*S,color:'#222',margin:8*S,formatter:v=>String(+(+v).toFixed(2))},
    splitLine:{show:true,lineStyle:{color:'#000',type:[2.5,4],width:2.5*S}}});
  const cols=['#00007f','#bfbf00','#7f0000'];
  groupNames.forEach((n,i)=>series.push({type:'bar',name:n,xAxisIndex:xi,yAxisIndex:yi,data:[[i+1,vals[i]]],barWidth:'100%',barGap:'-100%',silent:true,
    itemStyle:{color:cols[i],borderColor:'#000',borderWidth:3.5*S}}));
  series.push({type:'custom',xAxisIndex:xi,yAxisIndex:yi,silent:true,z:5,encode:{x:0,y:[1,2]},
    data:vals.map((v,i)=>[i+1,v-errs[i],v+errs[i]]),
    renderItem:(p,api)=>{
      const a=api.coord([api.value(0),api.value(1)]),b=api.coord([api.value(0),api.value(2)]),c=11*S;
      const st={stroke:'#000',lineWidth:4.5*S};
      return {type:'group',children:[
        {type:'line',shape:{x1:a[0],y1:a[1],x2:b[0],y2:b[1]},style:st},
        {type:'line',shape:{x1:a[0]-c,y1:a[1],x2:a[0]+c,y2:a[1]},style:st},
        {type:'line',shape:{x1:b[0]-c,y1:b[1],x2:b[0]+c,y2:b[1]},style:st}]};
    }});
}
// ---------- top three connectivity maps
heat(223,268,262,224,strongGroups,{frame:'#999',frameW:1,cell:'rgba(0,0,0,0.15)',cellW:1,font:10,col:'#444',margin:4,pick:[0,2,4,6,8,10,12,14]});
heat(753,268,257,223,weakGroups,{frame:'#999',frameW:1,cell:'rgba(0,0,0,0.15)',cellW:1,font:10,col:'#444',margin:4,pick:[0,2,4,6,8,10,12,14]});
heat(1255,267,251,234,noGroups,{frame:'#999',frameW:1,cell:'rgba(0,0,0,0.15)',cellW:1,font:13,col:'#333',margin:4,pick:[0,2,4,6,8,10,12,14]});
// ---------- sixteen detected networks
const colLeft=[222,584,947,1310],colBar=[425,787,1149,1513],rowTop=[660,910,1158,1406],rowH=[163,161,161,164],barH=[166,165,165,166],titleY=[633,882,1130,1380];
networks.forEach((m,i)=>{
  const r=Math.floor(i/4),c=i%4;
  heat(colLeft[c],rowTop[r],161.5,rowH[r],m,{frame:'#555',frameW:1,cell:'#000',cellW:2.3,font:24,col:'#222',margin:7,pick:[3,8,13]});
  colorBar(colBar[c],rowTop[r],24,barH[r],barRanges[i],barTicks[i]);
  graphics.push(label(String(i+1),colLeft[c]+79,titleY[r],24,ARIAL,'#222'));
});
// ---------- cosine similarity line
{
  const g=addGrid(214,1716,1382,163);
  const xi=addX({gridIndex:g,type:'value',min:1,max:17,axisLine:{onZero:false,lineStyle:{color:'#000',width:2}},
    axisTick:{inside:true,length:7,customValues:timeValues.filter(v=>v%2===0),lineStyle:{color:'#000'}},
    axisLabel:{customValues:timeValues.filter(v=>v%2===0),fontFamily:ARIAL,fontSize:32*S,color:'#222',margin:14*S},
    splitLine:{show:true,lineStyle:{color:'#222',type:[1,4],width:1}}});
  const yi=addY({gridIndex:g,type:'value',min:0,max:1.087,axisLine:{onZero:false,lineStyle:{color:'#000',width:1}},
    axisTick:{inside:true,length:7,customValues:[0,0.5,1],lineStyle:{color:'#000'}},
    axisLabel:{customValues:[0,0.5,1],fontFamily:ARIAL,fontSize:32*S,color:'#222',margin:10*S},
    splitLine:{show:true,lineStyle:{color:'#222',type:[1,4],width:1}}});
  series.push({type:'line',xAxisIndex:xi,yAxisIndex:yi,data:timeValues.map((t,i)=>[t,cosineValues[i]]),silent:true,symbol:'circle',symbolSize:19*S,showAllSymbol:true,
    lineStyle:{color:'#000',width:7*S},itemStyle:{color:'#fff',borderColor:'#000',borderWidth:7.5*S}});
}
// ---------- stability bars
stability(176,2070,1079,655,stabilityAll,stabilityAllErr,25);
stability(1535,2069,1032,665,stabilityNon,stabilityNonErr,26);
// ---------- histograms
histogram(2071,402,429,339,hist2a,hist2aStart,120,20);
histogram(2071,920,443,349,hist2b,hist2bStart,300,50);
histogram(2096,1475,435,344,hist2c,hist2cStart,350,50);
histogram(3796,392,446,351,hist2d,hist2dStart,33,5,true);
histogram(3795,920,450,354,hist2e,hist2eStart,48,5,true);
histogram(3799,1494,430,341,hist2f,hist2fStart,42,5,true);
// ---------- differenced histograms
diffPlot(2810,533,553,430,diff2c2a,0.08,0.02,17);
diffPlot(2814,1208,584,461,diff2c2b,0.05,0.01,18);
diffPlot(4570,533,553,437,diff2f2d,0.05,0.01,17);
diffPlot(4578,1208,555,439,diff2f2e,0.05,0.01,18);

// ---------- text
function label(t,cx,cy,size,family,fill){return {type:'text',z:50,silent:true,style:{text:t,x:cx*S,y:cy*S,fontSize:size*S,fontFamily:family,fill:fill,textAlign:'center',textVerticalAlign:'middle'}};}
function fitted(t,cx,cy,w){ // Calibri-like text, sized to the width it has in the reference
  const mc=fitted.ctx||(fitted.ctx=document.createElement('canvas').getContext('2d'));
  mc.font='100px Lato';
  const size=100*w/mc.measureText(t).width;
  return {type:'text',z:50,silent:true,style:{text:t,x:cx*S,y:cy*S,fontSize:size*S,fontFamily:'Lato',fill:'#000',textAlign:'center',textVerticalAlign:'middle'}};
}
[['Generating Connectivities',818,70,997],['Strong Groups',334,204,431],['Weak Groups',855,207,399],['No Groups',1374,207,316],
 ['Sample of detected networks',489,595,632],['All Cells',2627,70,297],['Histograms',2246,172,335],['Differenced Histograms',3087,171,704],
 ['(2a) Strong groups \u2013 all cells',2260,332,843],['(2c)-(2a)',3058,475,251],['(2b) Weak groups \u2013 all cells',2257,852,819],
 ['(2c)-(2b)',3071,1156,253],['(2c) No groups \u2013 all cells',2221,1389,727],['Non-grouped cells only',4436,70,892],['Histograms',4023,177,333],
 ['Differenced Histograms',4767,175,702],['(2d) Strong groups',3975,340,554],['(2f)-(2d)',4784,466,244],['(2e) Weak groups',3956,852,525],
 ['(2f)-(2e)',4767,1155,242],['(2f) No groups',3911,1395,428],['Stability of all cells',675,2802,553],['Stability of non-grouped cells',2046,2800,878],
 ['(1a)',103,2085,112],['(1b)',1434,2098,116],
 ['The shift in the distribution of functional',4593,1967,1224],['connectivities is present in the non-',4521,2057,1080],['grouped cells (2f)-(2d) and (2f)-(2e).',4526,2144,1090],
 ['In (1b) the stability is higher in the non-',3363,2402,1194],['grouped cells due to the influence of the',3378,2492,1224],['partially synchronized output of the',3306,2582,1080],['grouped cells on the network.',3217,2669,903]
].forEach(a=>graphics.push(fitted(a[0],a[1],a[2],a[3])));
graphics.push(label('ISI z-score cosine similarity',900,1683,27,ARIAL,'#222'));
graphics.push(label('Time',900,1947,30,ARIAL,'#222'));
// side band
graphics.push({type:'rect',z:40,silent:true,shape:{x:0,y:0,width:42*S,height:2841*S},style:{fill:'#1f497d'}});
// ---------- flow arrows
function arrow(x0,y0,x1,y1,w,L,H){
  const len=Math.hypot(x1-x0,y1-y0),dx=(x1-x0)/len,dy=(y1-y0)/len,nx=-dy,ny=dx;
  const p=(a,b)=>[(x1-dx*a+nx*b)*S,(y1-dy*a+ny*b)*S];
  const points=[[(x0+nx*w/2)*S,(y0+ny*w/2)*S],p(L*0.55,w/2),p(L,H-4),p(0,0),p(L,-H+4),p(L*0.55,-w/2),[(x0-nx*w/2)*S,(y0-ny*w/2)*S]];
  return {type:'polygon',z:60,silent:true,shape:{points},style:{fill:'#4a7ebb',stroke:'#4a7ebb',lineWidth:4*S,lineJoin:'round'}};
}
[[878,520,878,625],[520,1601,520,1707],[713,1959,713,2245],[1706,1035,1879,1035],[2593,1098,2728,1152],[4300,1159,4437,1213]]
  .forEach(a=>graphics.push(arrow(a[0],a[1],a[2],a[3],13,58,30)));

const legendBase={orient:'vertical',selectedMode:false,icon:'rect',backgroundColor:'#fff',borderColor:'#555',borderWidth:1,align:'left',z:20,itemStyle:{borderColor:'#000',borderWidth:4*S}};
const chart=echarts.init(document.getElementById('c'),null,{width:4096,height:2219,renderer:'canvas'});
chart.setOption({animation:false,backgroundColor:'#fff',
  grid:grids,xAxis:xAxes,yAxis:yAxes,series:series,
  visualMap:[{show:false,type:'continuous',min:0,max:9,dimension:2,seriesIndex:heatSeries,inRange:{color:JET}}],
  legend:[
    Object.assign({},legendBase,{data:groupNames,left:967*S,top:2087*S,itemWidth:64*S,itemHeight:25*S,itemGap:6*S,padding:[8*S,8*S,6*S,12*S],textStyle:{fontFamily:ARIAL,fontSize:25*S,color:'#222',padding:[0,0,0,-2]}}),
    Object.assign({},legendBase,{data:groupNames,left:2235*S,top:2152*S,itemWidth:70*S,itemHeight:27*S,itemGap:7*S,padding:[8*S,8*S,8*S,12*S],textStyle:{fontFamily:ARIAL,fontSize:27*S,color:'#222',padding:[0,0,0,-2]}})
  ],
  graphic:graphics});
</script></body></html>
